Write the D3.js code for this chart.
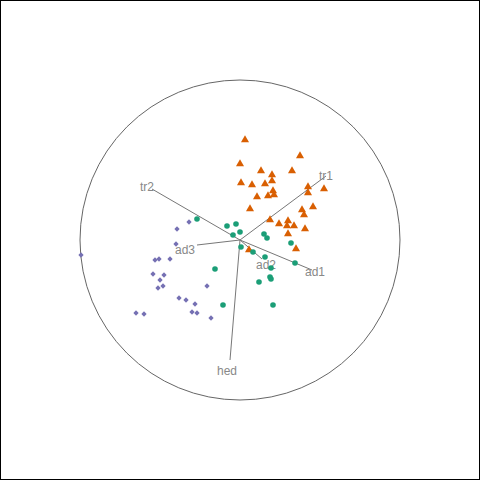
<!DOCTYPE html>
<html><head><meta charset="utf-8">
<script src="https://cdn.jsdelivr.net/npm/d3@7"></script>
<style>body{margin:0;background:#fff}</style>
</head><body>
<div class="canvas"></div>
<script>
// projected coordinates in units of the unit circle (x right, y up)
const c = 240, r = 160;
const toU = p => [(p[0] - c) / r, (c - p[1]) / r];

const axisNames = ['tr1', 'tr2', 'ad1', 'ad2', 'ad3', 'hed'];
const axisEnds = [[326,176],[152,189],[312,270],[262,259],[197,245],[230,360]].map(toU);
const labelPos = [[326,176],[147,187],[315,272],[266,265],[185,250],[227,371]].map(toU);

const groupA = [[245,140],[300,156],[240,164],[261,171],[272,175],[292,171],[241,183],[252,185],[265,184],[272,181],
  [308,187],[324,189],[273,191],[308,193],[257,197],[268,196],[274,195],[250,209],[313,207],[302,210],[304,215],
  [270,220],[279,224],[288,221],[287,226],[294,226],[305,229],[288,234],[296,249],[249,250]].map(toU);
const groupB = [[197,219],[227,226],[236,224],[240,232],[233,235],[264,234],[267,238],[241,247],[253,252],[265,257],
  [291,243],[295,263],[271,268],[270,277],[271,279],[259,282],[223,305],[273,305],[215,269]].map(toU);
const groupC = [[81,255],[189,222],[177,229],[176,244],[155,260],[159,259],[170,259],[153,274],[164,275],[160,280],
  [163,286],[158,288],[207,286],[179,298],[186,300],[195,304],[192,312],[197,313],[136,313],[144,314],[211,318]].map(toU);

const svg = d3.select('.canvas').append('svg').attr('width', 480).attr('height', 480);
svg.append('rect').attr('x', 0.5).attr('y', 0.5).attr('width', 479).attr('height', 479)
  .attr('fill', 'none').attr('stroke', '#000');

const x = d3.scaleLinear().domain([-1, 1]).range([c - r, c + r]);
const y = d3.scaleLinear().domain([-1, 1]).range([c + r, c - r]);

svg.append('circle').attr('cx', x(0)).attr('cy', y(0)).attr('r', r)
  .attr('fill', 'none').attr('stroke', '#666');

svg.selectAll('line.ax').data(axisEnds).join('line')
  .attr('x1', x(0)).attr('y1', y(0))
  .attr('x2', d => x(d[0])).attr('y2', d => y(d[1]))
  .attr('stroke', '#777');

svg.selectAll('text.ax').data(labelPos).join('text')
  .attr('x', d => x(d[0])).attr('y', d => y(d[1]))
  .attr('text-anchor', 'middle').attr('dy', '0.35em')
  .attr('font-family', 'Liberation Sans, Arial, sans-serif').attr('font-size', 12)
  .attr('fill', '#888')
  .text((d, i) => axisNames[i]);

svg.selectAll('path.a').data(groupA).join('path')
  .attr('d', d3.symbol(d3.symbolTriangle, 28))
  .attr('transform', d => `translate(${x(d[0])},${y(d[1])})`)
  .attr('fill', '#d95f02');
svg.selectAll('circle.b').data(groupB).join('circle')
  .attr('cx', d => x(d[0])).attr('cy', d => y(d[1])).attr('r', 2.8)
  .attr('fill', '#1b9e77');
svg.selectAll('path.c').data(groupC).join('path')
  .attr('d', d3.symbol(d3.symbolDiamond, 14))
  .attr('transform', d => `translate(${x(d[0])},${y(d[1])}) scale(1.3,0.8)`)
  .attr('fill', '#7570b3');
</script>
</body></html>
